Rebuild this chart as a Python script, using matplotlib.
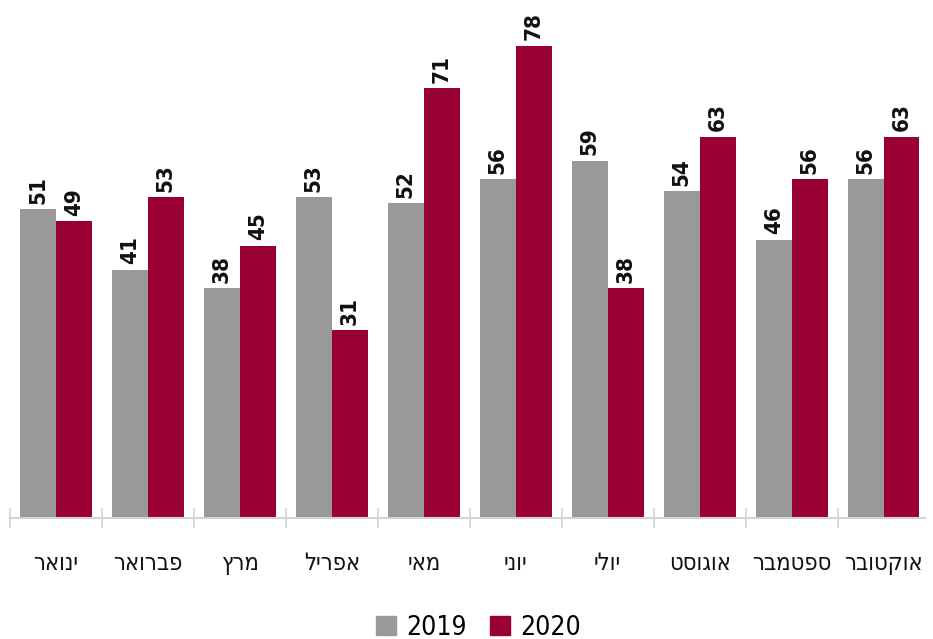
import numpy as np
import matplotlib
matplotlib.use("Agg")
import matplotlib.pyplot as plt
from matplotlib.patches import Patch

months = ["ינואר", "פברואר", "מרץ", "אפריל", "מאי", "יוני", "יולי", "אוגוסט", "ספטמבר", "אוקטובר"]
v2019 = [51, 41, 38, 53, 52, 56, 59, 54, 46, 56]
v2020 = [49, 53, 45, 31, 71, 78, 38, 63, 56, 63]
years = ["2019", "2020"]

plt.rcParams['font.family'] = ["DejaVu Sans"]
plt.rcParams['font.stretch'] = "condensed"

gray = "#999999"
red = "#990033"

fig = plt.figure(figsize=(9.33, 6.39), dpi=100)
ax = fig.add_axes([10 / 933, 121 / 639, 915 / 933, 498 / 639])

x = np.arange(len(months))
w = 0.39
b1 = ax.bar(x - w / 2, v2019, w, color=gray)
b2 = ax.bar(x + w / 2, v2020, w, color=red)

for bars, vals in [(b1, v2019), (b2, v2020)]:
    for b, v in zip(bars, vals):
        ax.annotate(str(v), (b.get_x() + b.get_width() / 2, v), xytext=(0, 4),
                    textcoords="offset points", rotation=90, ha="center", va="bottom",
                    fontsize=16, fontweight="bold", fontstretch="condensed", color="#111111")

ax.set_xlim(-0.5, 9.45)
ax.set_ylim(0, 82.3)

# matplotlib has no bidi support, so reverse Hebrew strings
for i, m in enumerate(months):
    ax.text(i, -7.5, m[::-1], ha="center", va="center", fontsize=17,
            fontstretch="condensed", color="#111111")

ax.set_xticks(np.arange(-0.5, 9.5, 1))
ax.set_xticklabels([])
ax.tick_params(axis="x", direction="inout", length=14, width=1.2, color="#d3d3d3")
ax.set_yticks([])
for s in ["top", "right", "left"]:
    ax.spines[s].set_visible(False)
ax.spines["bottom"].set_color("#d3d3d3")
ax.spines["bottom"].set_linewidth(1.5)

handles = [Patch(color=gray), Patch(color=red)]
fig.legend(handles, years, loc="lower center", bbox_to_anchor=(0.513, -0.04), ncol=2,
           frameon=False, prop={"size": 19, "stretch": "condensed"}, handlelength=0.75,
           handleheight=0.75, handletextpad=0.4, columnspacing=0.9)

fig.savefig("out.png", dpi=100)
